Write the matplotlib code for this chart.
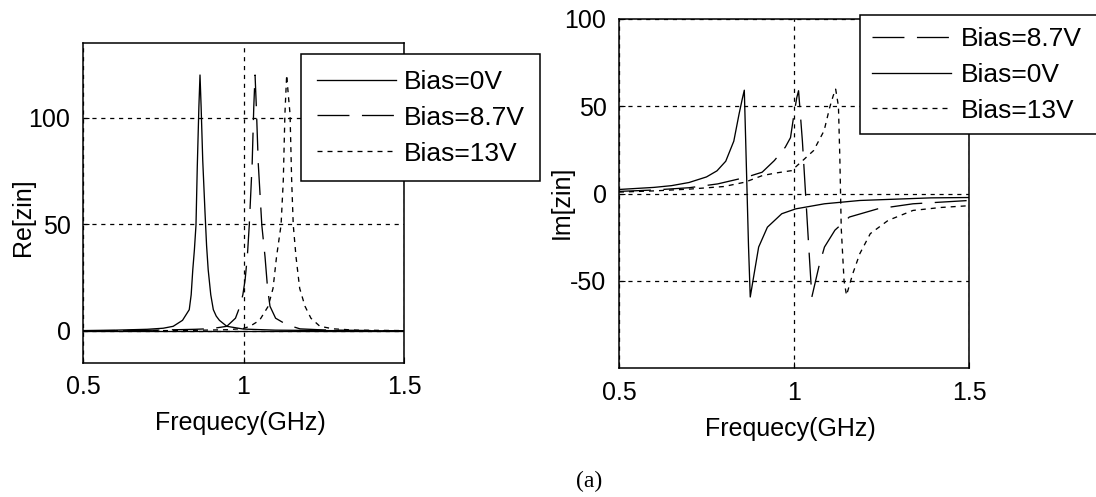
import matplotlib
matplotlib.use("Agg")
import matplotlib.pyplot as plt

plt.rcParams['font.family'] = ['Liberation Sans', 'DejaVu Sans']
plt.rcParams['lines.scale_dashes'] = False
plt.rcParams['axes.unicode_minus'] = False

# ---- Re[zin] data ----
re_x_0v = [0.5, 0.6, 0.7, 0.75, 0.781, 0.81, 0.831, 0.837, 0.842, 0.847, 0.852, 0.856,
           0.861, 0.8645, 0.868, 0.873, 0.880, 0.885, 0.890, 0.898, 0.906, 0.915, 0.925,
           0.948, 1.0, 1.1, 1.3, 1.5]
re_y_0v = [0.2, 0.4, 0.8, 1.3, 2.2, 5, 10, 17, 28.7, 38, 49.7, 76.9,
           105, 120, 105, 80, 55.9, 40, 28.7, 17, 10, 7, 5,
           2.2, 0.9, 0.4, 0.15, 0.1]

re_x_87v = [0.5, 0.7, 0.85, 0.9, 0.948, 0.975, 0.989, 0.998, 1.005, 1.012, 1.018, 1.027,
            1.032, 1.036, 1.040, 1.046, 1.057, 1.067, 1.075, 1.0825, 1.10, 1.134, 1.176,
            1.25, 1.4, 1.5]
re_y_87v = [0.1, 0.3, 0.8, 1.1, 2.2, 6, 11.6, 17, 24, 35, 49.7, 78.5,
            105, 120, 105, 78.5, 49.7, 34.9, 20, 11.6, 6, 3, 1,
            0.5, 0.2, 0.1]

re_x_13v = [0.5, 0.8, 0.95, 1.0, 1.020, 1.05, 1.077, 1.092, 1.103, 1.117, 1.124, 1.129,
            1.1345, 1.140, 1.145, 1.150, 1.155, 1.1635, 1.175, 1.1916, 1.21, 1.238,
            1.28, 1.35, 1.5]
re_y_13v = [0.05, 0.2, 0.6, 1.2, 2.2, 5, 11.6, 20, 34.9, 49.7, 70.7, 101.7,
            120, 110, 101.7, 70.7, 49.7, 34.9, 20, 11.6, 6, 2.2,
            1, 0.4, 0.2]

# ---- Im[zin] data ----
im_x_0v = [0.5, 0.6, 0.65, 0.7, 0.75, 0.78, 0.805, 0.828, 0.843, 0.852, 0.858, 0.862,
           0.866, 0.870, 0.875, 0.883, 0.899, 0.924, 0.965, 1.005, 1.087, 1.188, 1.391, 1.5]
im_y_0v = [2.3, 3.5, 4.5, 6.3, 9.5, 13, 18.5, 30, 45.5, 54, 59.2, 30,
           0, -30, -59.3, -49.7, -30.7, -19.3, -11.6, -8.8, -5.9, -4, -2.5, -2.3]

im_x_87v = [0.5, 0.6, 0.7, 0.782, 0.863, 0.909, 0.944, 0.975, 0.990, 1.000, 1.008, 1.013,
            1.024, 1.033, 1.042, 1.051, 1.071, 1.087, 1.117, 1.158, 1.239, 1.340, 1.5]
im_y_87v = [1.2, 2.0, 3.3, 5.5, 9.3, 12.2, 18.9, 26.5, 32, 45.5, 55, 58.9,
            30, 0, -30, -59.3, -42, -30.7, -21, -13.5, -8.8, -5.9, -4]

im_x_13v = [0.5, 0.6, 0.7, 0.8, 0.86, 0.91, 0.95, 0.993, 1.025, 1.056, 1.086, 1.102,
            1.112, 1.119, 1.127, 1.131, 1.135, 1.143, 1.150, 1.168, 1.188, 1.218, 1.269,
            1.340, 1.42, 1.5]
im_y_13v = [0.8, 1.5, 2.5, 4, 6.5, 10.3, 11.8, 13.1, 18.9, 24.6, 36, 49.3,
            56, 59.8, 50, 20, -20, -50, -58.3, -45.9, -34.5, -23, -15.4,
            -9.7, -8, -7]

labels = ['Bias=0V', 'Bias=8.7V', 'Bias=13V']

W, H = 1096, 497
fig = plt.figure(figsize=(W / 100, H / 100), dpi=100)

solid = dict(color='black', lw=0.95, linestyle='-')
dashed = dict(color='black', lw=0.95, linestyle=(0, (23, 9)))
dotted = dict(color='black', lw=0.95, linestyle=(0, (3.6, 3.6)))
grid_style = dict(color='black', lw=0.9, linestyle=(0, (3, 3.4)))
fs = 18
lfs = 19


def px_axes(x0, y0, x1, y1):
    return fig.add_axes([x0 / W, 1 - y1 / H, (x1 - x0) / W, (y1 - y0) / H])


def style(ax):
    for s in ax.spines.values():
        s.set_linewidth(1.1)
    ax.tick_params(direction='in', length=4, width=0.8, labelsize=fs, pad=9,
                   top=False, right=False)
    ax.grid(True, **grid_style)
    ax.set_axisbelow(True)


# Left panel
ax1 = px_axes(83, 43, 404, 363)
l1, = ax1.plot(re_x_0v, re_y_0v, **solid)
l2, = ax1.plot(re_x_87v, re_y_87v, **dashed)
l3, = ax1.plot(re_x_13v, re_y_13v, **dotted)
ax1.axhline(0, **solid)
ax1.set_xlim(0.5, 1.5)
ax1.set_ylim(-15, 135)
ax1.set_xticks([0.5, 1, 1.5])
ax1.set_xticklabels(['0.5', '1', '1.5'])
ax1.set_yticks([0, 50, 100])
style(ax1)
ax1.set_xlabel('Frequecy(GHz)', fontsize=fs)
ax1.set_ylabel('Re[zin]', fontsize=fs)
ax1.xaxis.set_label_coords(0.49, -0.15)
ax1.yaxis.set_label_coords(-0.148, 0.456)
leg1 = ax1.legend([l1, l2, l3], labels, loc='upper left',
                  bbox_to_anchor=(301 / W, 1 - 177 / H, 239 / W, 123 / H),
                  bbox_transform=fig.transFigure, mode='expand', borderaxespad=0,
                  fontsize=lfs, handlelength=3.0, handletextpad=0.3,
                  borderpad=0.6, labelspacing=0.45, fancybox=False,
                  framealpha=1, edgecolor='black')
leg1.get_frame().set_linewidth(1.1)

# Right panel
ax2 = px_axes(619, 19, 969, 368)
m2, = ax2.plot(im_x_87v, im_y_87v, **dashed)
m1, = ax2.plot(im_x_0v, im_y_0v, **solid)
m3, = ax2.plot(im_x_13v, im_y_13v, **dotted)
ax2.set_xlim(0.5, 1.5)
ax2.set_ylim(-100, 100)
ax2.set_xticks([0.5, 1, 1.5])
ax2.set_xticklabels(['0.5', '1', '1.5'])
ax2.set_yticks([-50, 0, 50, 100])
style(ax2)
ax2.set_xlabel('Frequecy(GHz)', fontsize=fs)
ax2.set_ylabel('Im[zin]', fontsize=fs)
ax2.xaxis.set_label_coords(0.49, -0.14)
ax2.yaxis.set_label_coords(-0.128, 0.476)
leg2 = ax2.legend([m2, m1, m3], [labels[1], labels[0], labels[2]], loc='upper left',
                  bbox_to_anchor=(860 / W, 1 - 137 / H, 260 / W, 122 / H),
                  bbox_transform=fig.transFigure, mode='expand', borderaxespad=0,
                  fontsize=lfs, handlelength=3.0, handletextpad=0.38,
                  borderpad=0.45, labelspacing=0.45, fancybox=False,
                  framealpha=1, edgecolor='black')
leg2.get_frame().set_linewidth(1.1)

fig.text(589 / W, 1 - 481 / H, '(a)', family=['Liberation Serif', 'DejaVu Serif'],
         fontsize=17, ha='center', va='center')

fig.savefig('out.png', dpi=100)
